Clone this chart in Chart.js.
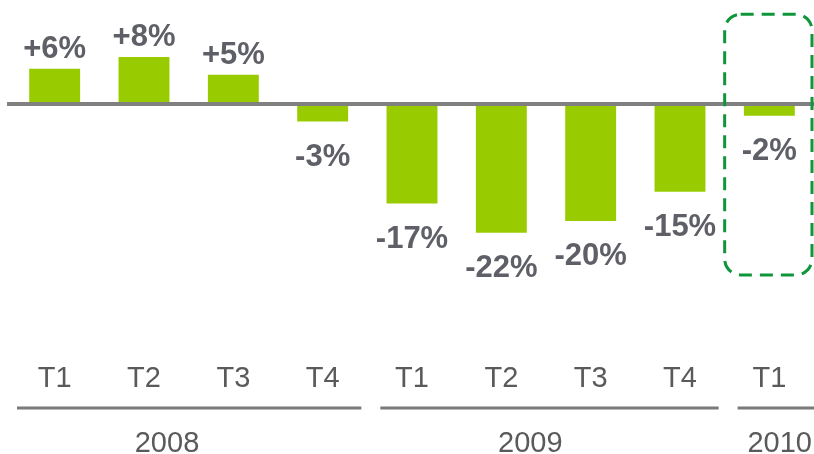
<!DOCTYPE html>
<html>
<head>
<meta charset="utf-8">
<script src="https://cdn.jsdelivr.net/npm/chart.js@4.4.0/dist/chart.umd.min.js"></script>
<style>
  html, body { margin: 0; padding: 0; background: #fff; }
  #wrap { width: 814px; height: 454px; position: relative; }
</style>
</head>
<body>
<div id="wrap"><canvas id="chart"></canvas></div>
<script>
// trimestres et variations (%)
const quarters = ['T1', 'T2', 'T3', 'T4', 'T1', 'T2', 'T3', 'T4', 'T1']
const growth = [6, 8, 5, -3, -17, -22, -20, -15, -2]
const years = ['2008', '2009', '2010']
const yearSpans = [[0, 3], [4, 7], [8, 8]]
const highlighted = 8

const FONT = '"Liberation Sans", Arial, sans-serif'
const labelColor = '#5f6067'
const axisColor = '#5a5a5a'

// étiquettes de valeur au-dessus / en dessous des barres
const valueLabels = {
  id: 'valueLabels',
  afterDatasetsDraw(chart) {
    const ctx = chart.ctx
    const meta = chart.getDatasetMeta(0)
    ctx.save()
    ctx.font = 'bold 31px ' + FONT
    ctx.fillStyle = labelColor
    ctx.textAlign = 'center'
    ctx.textBaseline = 'alphabetic'
    meta.data.forEach((bar, i) => {
      const v = growth[i]
      const txt = (v > 0 ? '+' : '') + v + '%'
      if (v >= 0) {
        ctx.fillText(txt, bar.x, bar.y - 11)
      } else {
        ctx.fillText(txt, bar.x, bar.y + 44)
      }
    })
    ctx.restore()
  }
}

// ligne du zéro, regroupements par année, cadre pointillé
const decorations = {
  id: 'decorations',
  afterDatasetsDraw(chart) {
    const ctx = chart.ctx
    const x = chart.scales.x
    const y = chart.scales.y
    const W = chart.width
    const step = x.getPixelForValue(1) - x.getPixelForValue(0)
    ctx.save()

    // axe zéro
    const y0 = y.getPixelForValue(0)
    ctx.strokeStyle = '#808080'
    ctx.lineWidth = 4
    ctx.beginPath()
    ctx.moveTo(7, y0)
    ctx.lineTo(W, y0)
    ctx.stroke()

    // lignes et libellés des années
    ctx.lineWidth = 3
    ctx.strokeStyle = '#7a7a7a'
    ctx.fillStyle = axisColor
    ctx.font = '29px ' + FONT
    ctx.textAlign = 'center'
    ctx.textBaseline = 'alphabetic'
    yearSpans.forEach((span, i) => {
      const left = x.getPixelForValue(span[0]) - step / 2 + (i === 0 ? 7 : 13)
      let right = x.getPixelForValue(span[1]) + step / 2 - 6
      if (i === yearSpans.length - 1) right = W
      ctx.beginPath()
      ctx.moveTo(left, 408)
      ctx.lineTo(right, 408)
      ctx.stroke()
      const half = ctx.measureText(years[i]).width / 2
      const tx = Math.min(left + 150, W - half - 2)
      ctx.fillText(years[i], tx, 452)
    })

    // cadre pointillé autour du dernier trimestre
    const cx = x.getPixelForValue(highlighted)
    const bx = cx - step / 2
    const bw = step - 2
    const by = y.getPixelForValue(15.3)
    const bh = y.getPixelForValue(-29.2) - by
    ctx.strokeStyle = '#0f963a'
    ctx.lineWidth = 3
    ctx.setLineDash([13, 8])
    ctx.beginPath()
    ctx.roundRect(bx, by, bw, bh, 16)
    ctx.stroke()
    ctx.restore()
  }
}

new Chart(document.getElementById('chart'), {
  type: 'bar',
  data: {
    labels: quarters,
    datasets: [{
      data: growth,
      backgroundColor: '#99cc00',
      borderWidth: 0,
      categoryPercentage: 1,
      barPercentage: 0.57
    }]
  },
  options: {
    responsive: true,
    maintainAspectRatio: false,
    animation: false,
    layout: { padding: { left: 10, right: 0, top: 0, bottom: 35 } },
    plugins: {
      legend: { display: false },
      tooltip: { enabled: false }
    },
    scales: {
      x: {
        grid: { display: false, drawTicks: false },
        border: { display: false },
        ticks: {
          padding: 23,
          color: axisColor,
          font: { family: FONT, size: 29 },
          maxRotation: 0,
          autoSkip: false
        }
      },
      y: {
        display: false,
        min: -40,
        max: 17.75
      }
    }
  },
  plugins: [valueLabels, decorations]
})
</script>
</body>
</html>
